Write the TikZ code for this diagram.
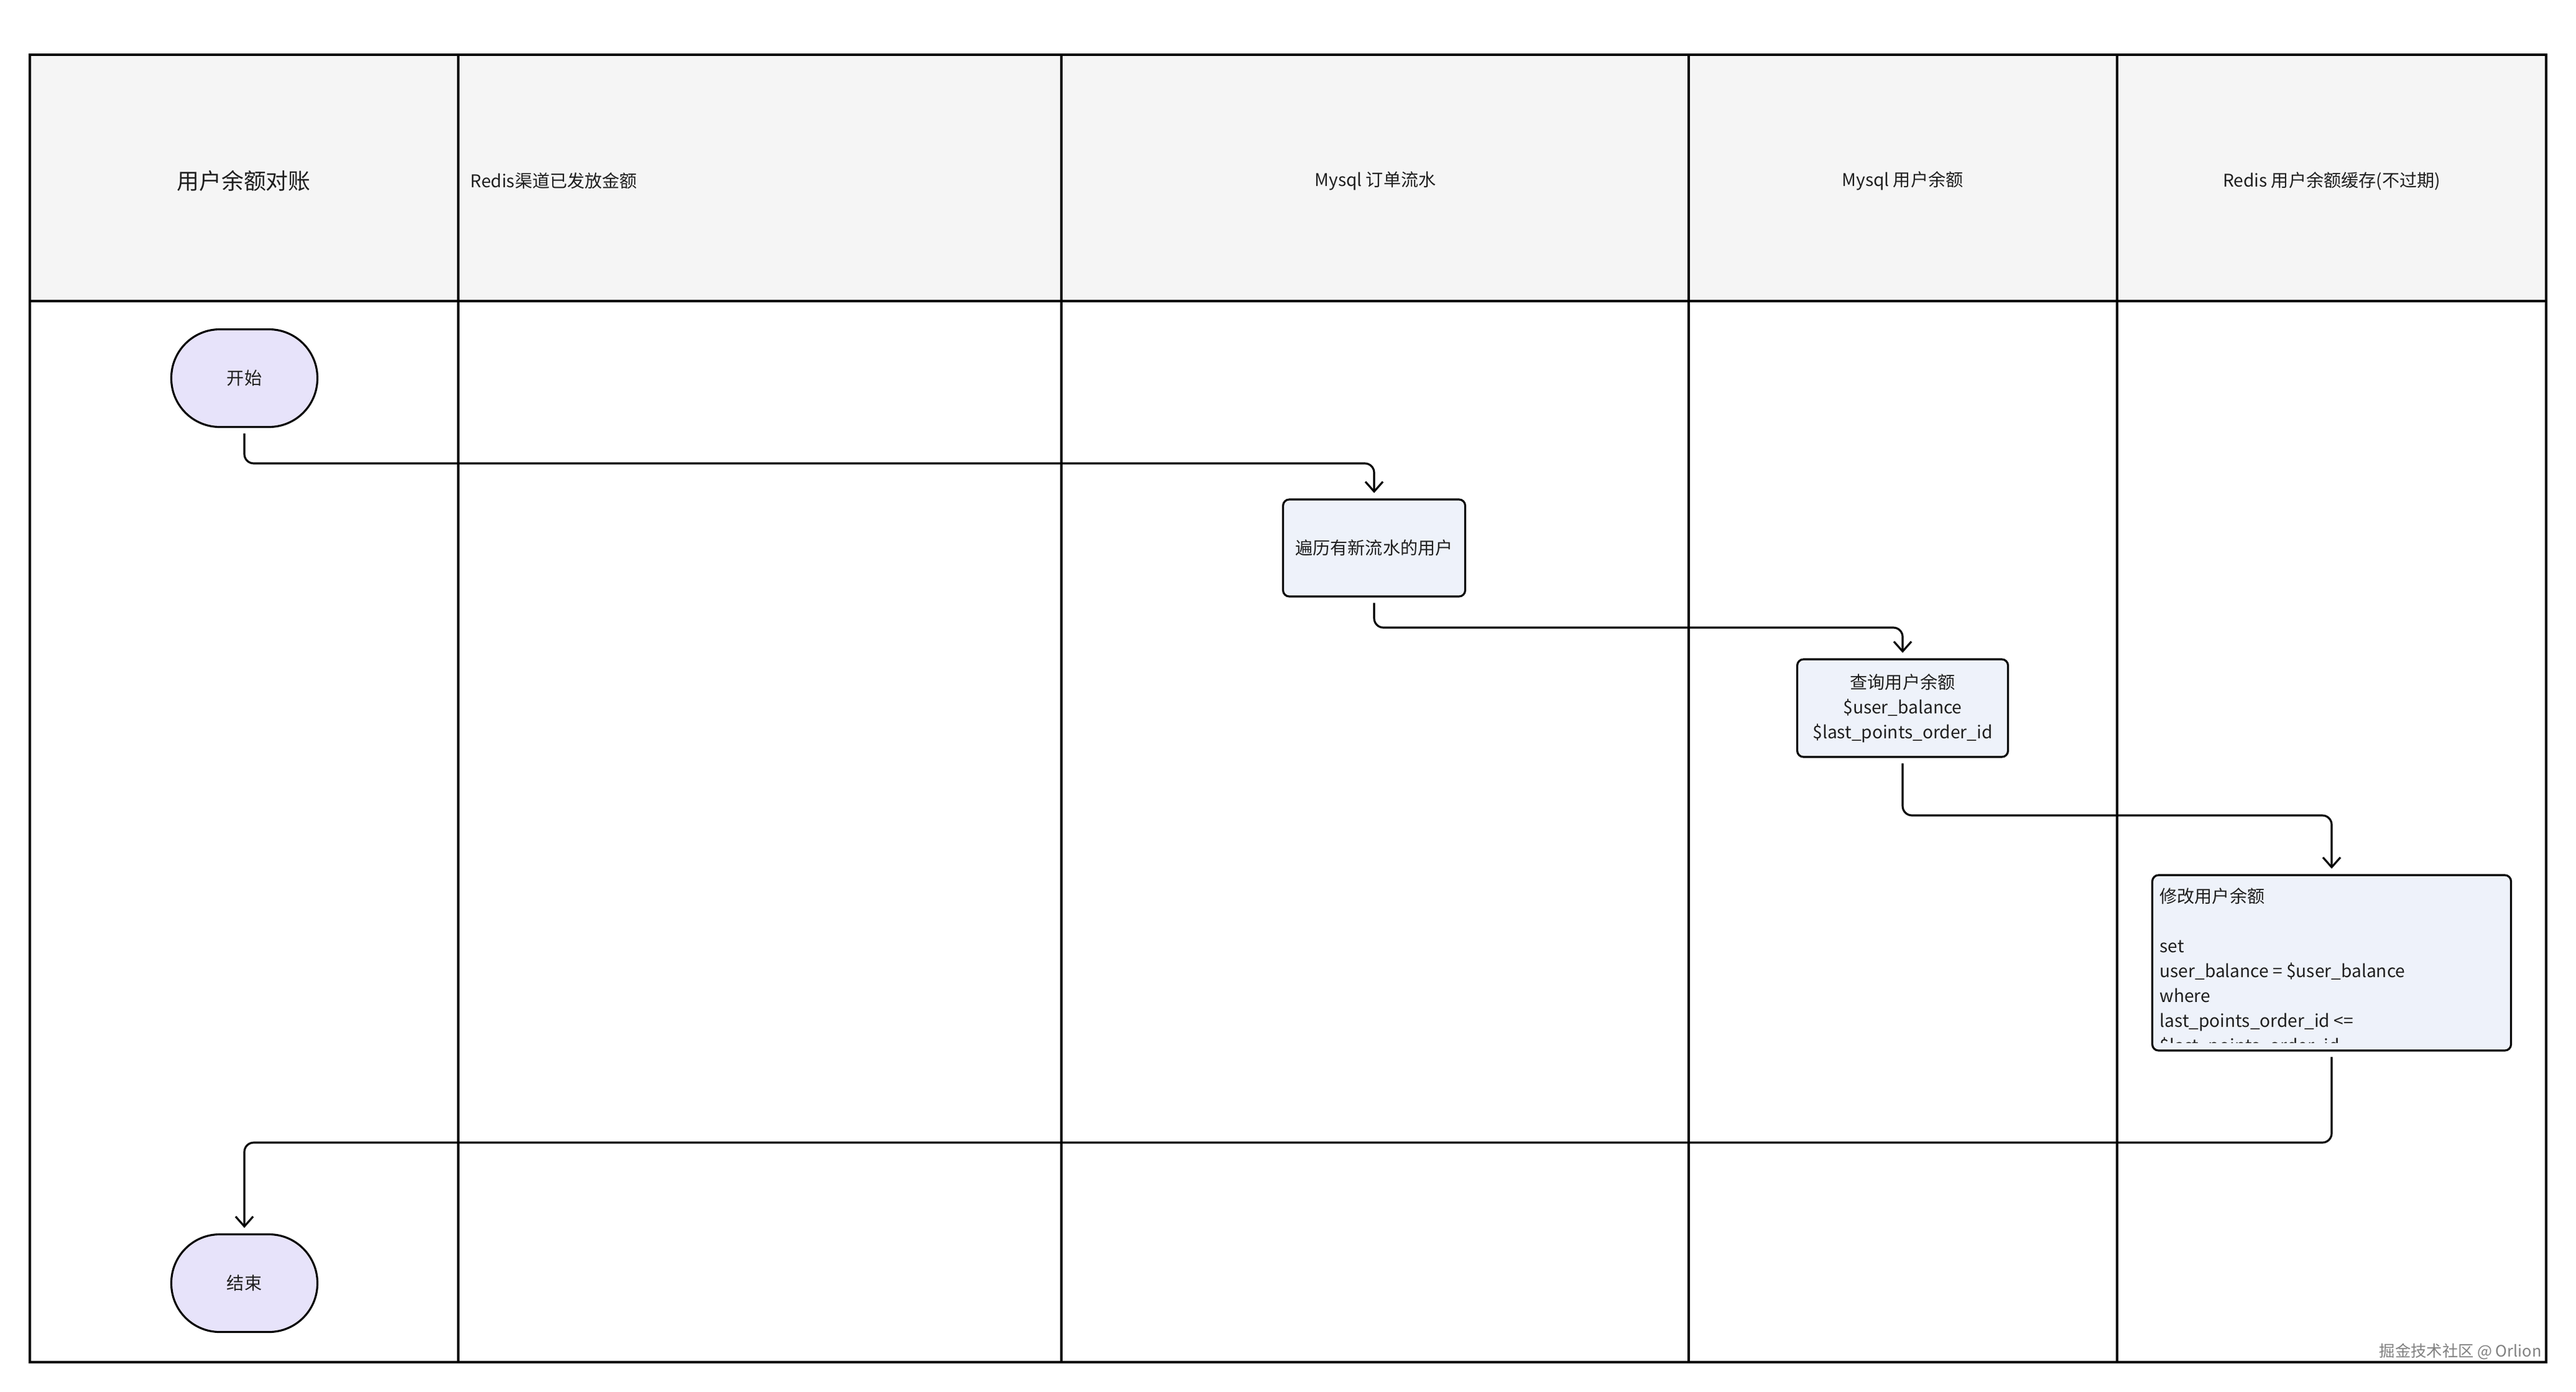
\documentclass[tikz,border=0pt]{standalone}
\usepackage{fontspec}
\setmainfont{Noto Sans CJK SC}
\usetikzlibrary{arrows.meta}
\definecolor{headfill}{HTML}{F5F5F5}
\definecolor{termfill}{HTML}{E7E3FA}
\definecolor{procfill}{HTML}{EEF2FA}
\definecolor{ink}{HTML}{1F1F1F}
\newcommand{\smallcjk}{\fontsize{8pt}{11.4pt}\selectfont}

\begin{document}
\begin{tikzpicture}[line width=0.9pt, text=ink,
	term/.style={draw, fill=termfill, rounded corners=7.8mm, minimum width=2.35cm, minimum height=1.57cm, font=\smallcjk},
	proc/.style={draw, fill=procfill, rounded corners=1mm, align=center, font=\smallcjk},
	lane/.style={font=\smallcjk},
	flow/.style={-{Straight Barb[length=4.5pt,width=8pt]}, rounded corners=1.5mm, shorten <=2.5pt, shorten >=2.5pt}]
	\useasboundingbox (0,0) rectangle (41.43,-22.37);
	%\draw[help lines] (0,0) grid (41,-22);
	% swimlane frame
	\fill[headfill] (0.48,-0.88) rectangle (40.95,-4.84);
	\draw (0.48,-0.88) rectangle (40.95,-21.90);
	\draw (0.48,-4.84)--(40.95,-4.84);
	\foreach \x in {7.37,17.07,27.16,34.05}
		\draw (\x,-0.88)--(\x,-21.90);
	% lane titles
	\node (title) at (3.92,-2.91) {\fontsize{10.2pt}{13pt}\selectfont 用户余额对账};
	\node[lane, anchor=west, inner sep=0pt] (redisA) at (7.55,-2.91) {Redis渠道已发放金额};
	\node[lane] (orders) at (22.12,-2.91) {Mysql 订单流水};
	\node[lane] (balance) at (30.60,-2.91) {Mysql 用户余额};
	\node[lane] (redisB) at (37.50,-2.91) {Redis 用户余额缓存(不过期)};
	% steps
	\node[term] (start) at (3.93,-6.08) {开始};
	\node[proc, minimum width=2.93cm, minimum height=1.56cm] (trav) at (22.10,-8.81) {遍历有新流水的用户};
	\node[proc, minimum width=3.39cm, minimum height=1.57cm] (query) at (30.60,-11.385) {查询用户余额\\\$user\_balance\\\$last\_points\_order\_id};
	\node[proc, minimum width=5.77cm, minimum height=2.82cm] (upd) at (37.50,-15.48) {};
	\begin{scope}
		\clip (34.70,-14.15) rectangle (40.30,-16.76);
		\node[anchor=north west, inner sep=0pt, align=left, font=\smallcjk] (updtext) at (34.72,-14.26)
			{修改用户余额\\ \\set\\user\_balance = \$user\_balance\\where\\last\_points\_order\_id <=\\\$last\_points\_order\_id};
	\end{scope}
	\node[term] (stop) at (3.93,-20.63) {结束};
	% bend heights
	\coordinate (h1) at (0,-7.45);
	\coordinate (h2) at (0,-10.09);
	\coordinate (h3) at (0,-13.11);
	\coordinate (h4) at (0,-18.37);
	\draw[flow] (start.south) -- (start.south |- h1) -| (trav.north);
	\draw[flow] (trav.south) -- (trav.south |- h2) -| (query.north);
	\draw[flow] (query.south) -- (query.south |- h3) -| (upd.north);
	\draw[flow] (upd.south) -- (upd.south |- h4) -| (stop.north);
	\node[anchor=east, inner sep=0pt, text=gray, font=\fontsize{7.2pt}{9pt}\selectfont] (mark) at (40.89,-21.73) {掘金技术社区 @ Orlion};
\end{tikzpicture}
\end{document}
